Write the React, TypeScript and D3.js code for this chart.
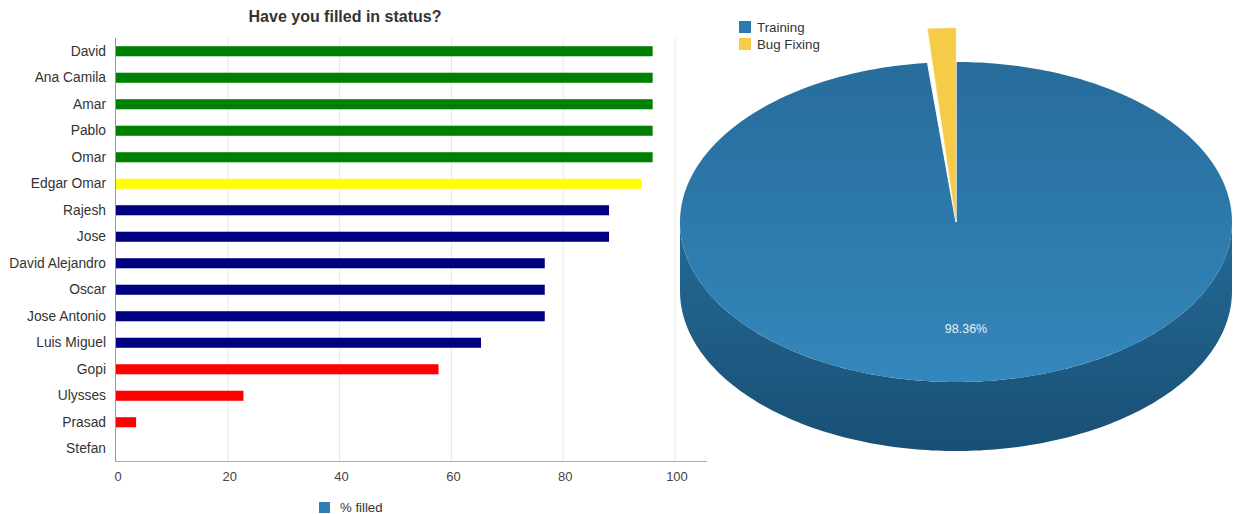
import React from "react";
import * as d3 from "d3";

const names = ["David", "Ana Camila", "Amar", "Pablo", "Omar", "Edgar Omar", "Rajesh", "Jose", "David Alejandro", "Oscar", "Jose Antonio", "Luis Miguel", "Gopi", "Ulysses", "Prasad", "Stefan"];
const filled = [96, 96, 96, 96, 96, 94, 88.2, 88.2, 76.7, 76.7, 76.7, 65.3, 57.7, 22.8, 3.6, 0];
const barColors = ["#008000", "#008000", "#008000", "#008000", "#008000", "#ffff00", "#000080", "#000080", "#000080", "#000080", "#000080", "#000080", "#ff0000", "#ff0000", "#ff0000", "#ff0000"];
const xTicks = [0, 20, 40, 60, 80, 100];

const pieLabels = ["Training", "Bug Fixing"];
const pieValues = [98.36, 1.64];
const pieColors = ["#2e7bb4", "#f5cb48"];

const FONT = "'Liberation Sans', Arial, sans-serif";

export default function App() {
  const x = d3.scaleLinear().domain([0, 100]).range([116, 675]);
  const y = d3.scaleBand<string>().domain(names).range([38, 462]).paddingInner(0.62).paddingOuter(0.31);
  const bh = y.bandwidth();

  // pie geometry
  const cx = 956, cy = 222, rx = 276, ry = 160, depth = 69, explode = 34;
  const arcs = d3.pie<number>().sort(null)(pieValues);
  const pt = (a: number, off = 0) => [cx + rx * Math.sin(a), cy - ry * Math.cos(a) - off];
  const slicePath = (a0: number, a1: number, off: number) => {
    const n = Math.max(4, Math.ceil(((a1 - a0) / (2 * Math.PI)) * 360));
    const pts: number[][] = [[cx, cy]];
    for (let i = 0; i <= n; i++) pts.push(pt(a0 + ((a1 - a0) * i) / n, off));
    return "M" + pts.map((p) => p.join(",")).join("L") + "Z";
  };
  const sidePath = () => {
    const pts: number[][] = [];
    const n = 180;
    for (let i = 0; i <= n; i++) {
      const a = Math.PI / 2 + (Math.PI * i) / n;
      pts.push([cx + rx * Math.sin(a), cy - ry * Math.cos(a) + depth]);
    }
    for (let i = n; i >= 0; i--) {
      const a = Math.PI / 2 + (Math.PI * i) / n;
      pts.push([cx + rx * Math.sin(a), cy - ry * Math.cos(a)]);
    }
    return "M" + pts.map((p) => p.join(",")).join("L") + "Z";
  };

  const training = arcs[0];
  const bug = arcs[1];
  const tStart = pt(training.startAngle);
  const tEnd = pt(training.endAngle);
  const labelPt = [cx + 10, cy + 111];

  return (
    <svg width={1238} height={514} style={{ position: "absolute", left: 0, top: 0, fontFamily: FONT }}>
      <defs>
        <linearGradient id="topG" x1="0" y1="0" x2="0" y2="1">
          <stop offset="0" stopColor="#276c9b" />
          <stop offset="1" stopColor="#3487bc" />
        </linearGradient>
        <linearGradient id="sideG" x1="0" y1="0" x2="0" y2="1">
          <stop offset="0" stopColor="#246a95" />
          <stop offset="1" stopColor="#194f75" />
        </linearGradient>
      </defs>
      <rect width={1238} height={514} fill="#ffffff" />

      {/* Bar chart */}
      <text x={345} y={22} textAnchor="middle" fontSize={16} fontWeight="bold" fill="#333">Have you filled in status?</text>
      {xTicks.slice(1).map((t) => (
        <line key={t} x1={x(t)} x2={x(t)} y1={38} y2={461} stroke="#e8e8e8" strokeWidth={1} />
      ))}
      {names.map((n, i) => (
        <g key={n}>
          {filled[i] > 0 && (
            <rect x={x(0)} y={y(n)!} width={x(filled[i]) - x(0)} height={bh} fill={barColors[i]} />
          )}
          <text x={106} y={y(n)! + bh / 2 + 4.5} textAnchor="end" fontSize={13.8} fill="#333">{n}</text>
        </g>
      ))}
      <line x1={115.5} x2={115.5} y1={38} y2={462} stroke="#999" strokeWidth={1} />
      <line x1={115} x2={707} y1={461.5} y2={461.5} stroke="#aaa" strokeWidth={1} />
      {xTicks.map((t) => (
        <text key={t} x={x(t) + 2} y={480.5} textAnchor="middle" fontSize={13} fill="#444">{t}</text>
      ))}
      <rect x={319} y={502} width={11} height={11} fill="#2e7db5" />
      <text x={340} y={512} fontSize={13.2} fill="#333">% filled</text>

      {/* Pie chart */}
      <path d={sidePath()} fill="url(#sideG)" />
      <path d={slicePath(training.startAngle, training.endAngle, 0)} fill="url(#topG)" />
      <line x1={cx} y1={cy} x2={tStart[0]} y2={tStart[1]} stroke="#fff" strokeWidth={1.2} />
      <line x1={cx} y1={cy} x2={tEnd[0]} y2={tEnd[1]} stroke="#fff" strokeWidth={1.2} />
      <path d={slicePath(bug.startAngle, bug.endAngle, explode)} fill={pieColors[1]} stroke="#fbe39a" strokeWidth={0.6} />
      <text x={labelPt[0]} y={labelPt[1]} textAnchor="middle" fontSize={12.5} fill="#e8f0f8">
        {((pieValues[0] / d3.sum(pieValues)) * 100).toFixed(2) + "%"}
      </text>

      {pieLabels.map((l, i) => (
        <g key={l}>
          <rect x={739} y={21 + i * 17} width={12} height={12} fill={pieColors[i]} />
          <text x={757} y={31.5 + i * 17} fontSize={13.3} fill="#333">{l}</text>
        </g>
      ))}
    </svg>
  );
}
